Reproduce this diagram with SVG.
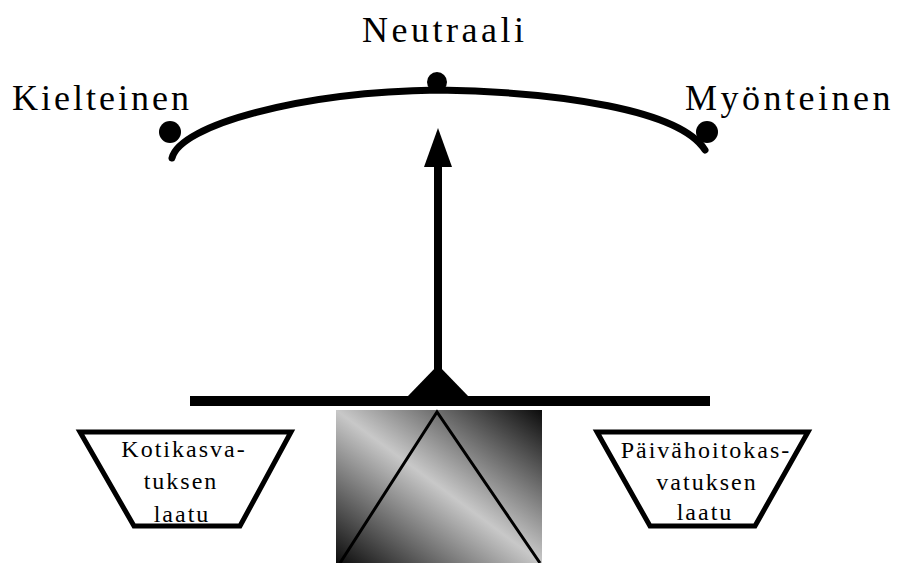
<svg xmlns="http://www.w3.org/2000/svg" width="902" height="563" viewBox="0 0 902 563">
<style>
.lbl{font-family:"Liberation Serif","Times New Roman",serif;fill:#000}
.top{font-size:36px;letter-spacing:3px}
.box{font-size:24px;letter-spacing:2px;text-anchor:middle}
.pan{fill:#fff;stroke:#000;stroke-width:5;stroke-linejoin:miter}
.arc{fill:none;stroke:#000;stroke-width:7;stroke-linecap:round}
</style>
<defs>
<linearGradient id="g" x1="1" y1="0" x2="0" y2="1">
<stop offset="0" stop-color="#0c0c0c"/>
<stop offset="0.5" stop-color="#c8c8c8"/>
<stop offset="1" stop-color="#0c0c0c"/>
</linearGradient>
</defs>
<rect width="902" height="563" fill="#fff"/>
<g id="scale-arc">
<path class="arc" d="M172,158 C180,125 300,92 438,90 C560,92 680,110 705,150"/>
</g>
<g id="kielteinen">
<circle cx="170" cy="132" r="11"/>
<text class="lbl top" x="12" y="110">Kielteinen</text>
</g>
<g id="neutraali">
<circle cx="437" cy="82" r="10"/>
<text class="lbl top" x="362" y="42" style="letter-spacing:3.5px">Neutraali</text>
</g>
<g id="myonteinen">
<circle cx="707" cy="132" r="11"/>
<text class="lbl top" x="685" y="110" style="letter-spacing:3.5px">Myönteinen</text>
</g>
<g id="connectors">
<line x1="438" y1="370" x2="438" y2="160" stroke="#000" stroke-width="8"/>
<polygon points="438,128 452,167 424,167"/>
</g>
<g id="beam">
<rect x="190" y="396" width="520" height="10"/>
<polygon points="438,365 469,397 407,397"/>
</g>
<g id="base">
<rect x="336" y="410" width="206" height="153" fill="url(#g)"/>
<polyline points="340,563 437,412 540,563" fill="none" stroke="#000" stroke-width="3"/>
</g>
<g id="kotikasvatus">
<polygon class="pan" points="80,432 291,432 240,526 134,526"/>
<text class="lbl box" x="184" y="457">Kotikasva-</text>
<text class="lbl box" x="181" y="489">tuksen</text>
<text class="lbl box" x="182" y="522">laatu</text>
</g>
<g id="paivahoito">
<polygon class="pan" points="597,432 808,432 755,526 650,526"/>
<text class="lbl box" x="706" y="458">Päivähoitokas-</text>
<text class="lbl box" x="707" y="490">vatuksen</text>
<text class="lbl box" x="705" y="520">laatu</text>
</g>
</svg>
